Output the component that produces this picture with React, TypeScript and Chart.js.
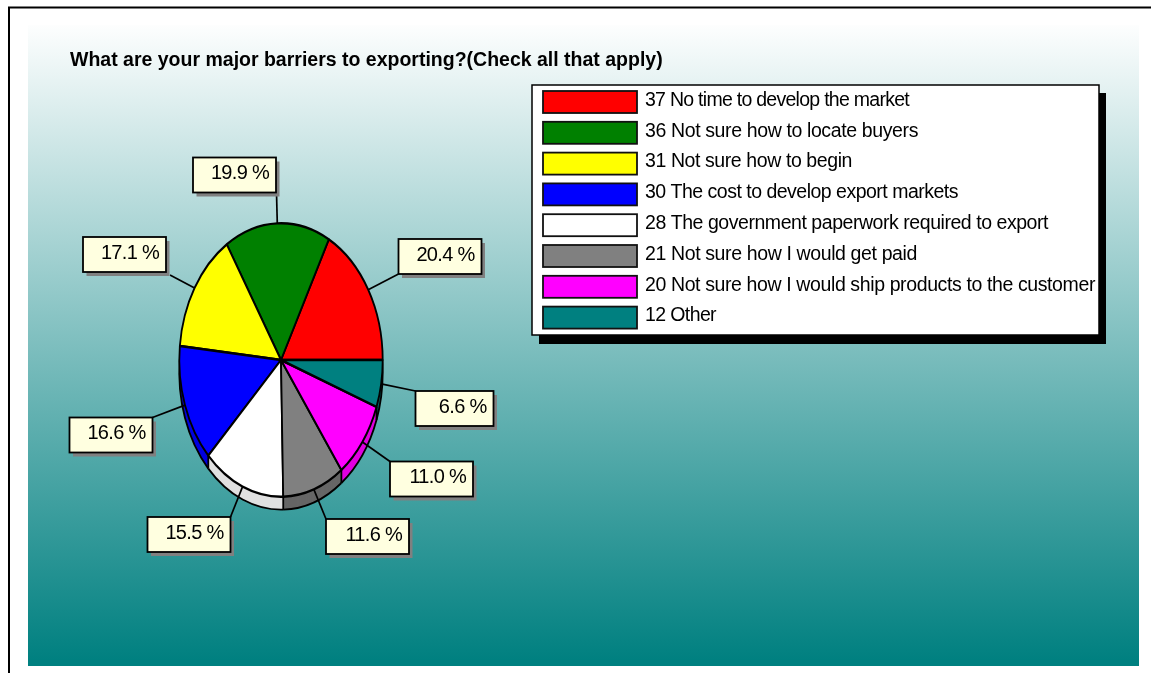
import React, { useEffect, useRef } from "react";
import { Chart, registerables } from "chart.js";

Chart.register(...registerables);

const TITLE = "What are your major barriers to exporting?(Check all that apply)";
const CATEGORIES = [
  "No time to develop the market",
  "Not sure how to locate buyers",
  "Not sure how to begin",
  "The cost to develop export markets",
  "The government paperwork required to export",
  "Not sure how I would get paid",
  "Not sure how I would ship products to the customer",
  "Other",
];
const COUNTS = [37, 36, 31, 30, 28, 21, 20, 12];
const PERCENT_LABELS = ["20.4", "19.9", "17.1", "16.6", "15.5", "11.6", "11.0", "6.6"];
const SLICE_COLORS = ["#ff0000", "#008000", "#ffff00", "#0000ff", "#ffffff", "#808080", "#ff00ff", "#008080"];
const WALL_COLORS = ["#c00000", "#006000", "#c0c000", "#0000e0", "#e0e0e0", "#666666", "#e000e0", "#006666"];
// Left and top corner of each percentage callout.
const CALLOUT_CORNERS = [
  [398.5, 239], [193, 157.5], [83, 237], [69.5, 417.5],
  [147.5, 517], [326, 519], [390, 461.5], [415.5, 391],
];
const CALLOUT_WIDTHS = [83, 83, 83, 83, 83, 83, 83, 78];
const CALLOUT_ATTACH = [
  [398.5, 274], [276.5, 192.5], [170, 275], [152.5, 417.5],
  [230.5, 517], [326, 519], [390, 461.5], [415.5, 391],
];
// Set width of each legend line, in pixels.
const LEGEND_TEXT_WIDTHS = [264, 273, 207, 313, 403, 272, 450, 71];

const CX = 281;
const CY = 360;
const RX = 101.7;
const RY = 136.7;
const DEPTH = 13;
const FONT = '"Liberation Sans", Arial, sans-serif';

function squash(ctx: CanvasRenderingContext2D, dy: number) {
  ctx.translate(CX, CY + dy);
  ctx.scale(1, -RY / RX);
  ctx.translate(-CX, -CY);
}

function drawLine(ctx: CanvasRenderingContext2D, x1: number, y1: number, x2: number, y2: number) {
  ctx.beginPath();
  ctx.moveTo(x1, y1);
  ctx.lineTo(x2, y2);
  ctx.stroke();
}

const slabPlugin = {
  id: "slab",
  beforeDraw(chart: any) {
    const ctx: CanvasRenderingContext2D = chart.ctx;
    ctx.save();
    ctx.fillStyle = "#ffffff";
    ctx.fillRect(0, 0, chart.width, chart.height);
    const g = ctx.createLinearGradient(0, 20, 0, 660);
    g.addColorStop(0, "#ffffff");
    g.addColorStop(1, "#008080");
    ctx.fillStyle = g;
    ctx.fillRect(28, 25, 1111, 641);
    ctx.strokeStyle = "#000000";
    ctx.lineWidth = 2;
    ctx.beginPath();
    ctx.moveTo(9, 673);
    ctx.lineTo(9, 7.5);
    ctx.lineTo(1151, 7.5);
    ctx.stroke();

    ctx.fillStyle = "#000000";
    ctx.font = `bold 19.5px ${FONT}`;
    ctx.textBaseline = "alphabetic";
    ctx.textAlign = "left";
    ctx.fillText(TITLE, 70, 66);
    ctx.restore();
  },
  beforeDatasetsDraw(chart: any) {
    const ctx: CanvasRenderingContext2D = chart.ctx;
    const arcs = chart.getDatasetMeta(0).data;
    // The side wall: darker copies of every slice stacked below the top face.
    for (let d = DEPTH; d >= 1; d--) {
      arcs.forEach((arc: any, i: number) => {
        const saved = arc.options;
        arc.options = { ...saved, backgroundColor: WALL_COLORS[i], borderWidth: 0 };
        ctx.save();
        squash(ctx, d);
        arc.draw(ctx);
        ctx.restore();
        arc.options = saved;
      });
    }
    // Rim of the lower edge.
    arcs.forEach((arc: any) => {
      ctx.save();
      squash(ctx, DEPTH);
      ctx.beginPath();
      ctx.arc(arc.x, arc.y, arc.outerRadius, arc.startAngle, arc.endAngle);
      ctx.restore();
      ctx.strokeStyle = "#000000";
      ctx.lineWidth = 1.8;
      ctx.stroke();
    });
    // Wall seams where slices meet on the front half.
    ctx.strokeStyle = "#000000";
    ctx.lineWidth = 1.8;
    arcs.forEach((arc: any) => {
      const s = Math.sin(arc.startAngle);
      if (s < 0) {
        const x = CX + arc.outerRadius * Math.cos(arc.startAngle);
        const y = CY - RY * s;
        drawLine(ctx, x, y, x, y + DEPTH);
      }
    });
    ctx.save();
    squash(ctx, 0);
  },
  afterDatasetsDraw(chart: any) {
    const ctx: CanvasRenderingContext2D = chart.ctx;
    ctx.restore();
    const arcs = chart.getDatasetMeta(0).data;

    // Percentage callouts with their leader lines.
    arcs.forEach((arc: any, i: number) => {
      const mid = (arc.startAngle + arc.endAngle) / 2;
      const [bx, by] = CALLOUT_CORNERS[i];
      const w = CALLOUT_WIDTHS[i];
      const h = 35;
      const [ax, ay] = CALLOUT_ATTACH[i];
      ctx.strokeStyle = "#000000";
      ctx.lineWidth = 1.7;
      drawLine(ctx, ax, ay, CX + RX * Math.cos(mid), CY - RY * Math.sin(mid));
      ctx.fillStyle = "#808080";
      ctx.fillRect(bx + 3.5, by + 4, w, h);
      ctx.fillStyle = "#ffffe0";
      ctx.fillRect(bx, by, w, h);
      ctx.lineWidth = 1.8;
      ctx.strokeRect(bx, by, w, h);
      ctx.fillStyle = "#000000";
      ctx.font = `20px ${FONT}`;
      (ctx as any).letterSpacing = "-0.7px";
      ctx.textAlign = "right";
      ctx.textBaseline = "alphabetic";
      ctx.fillText(`${PERCENT_LABELS[i]} %`, bx + w - 7, by + 21.7);
      (ctx as any).letterSpacing = "0px";
    });

    // Legend box with a solid black drop shadow.
    ctx.fillStyle = "#000000";
    ctx.fillRect(539, 93, 567, 251);
    ctx.fillStyle = "#ffffff";
    ctx.fillRect(532, 85, 567, 250);
    ctx.strokeStyle = "#000000";
    ctx.lineWidth = 1.5;
    ctx.strokeRect(532, 85, 567, 250);
    CATEGORIES.forEach((name, i) => {
      const y = 91 + i * 30.8;
      ctx.fillStyle = SLICE_COLORS[i];
      ctx.fillRect(543, y, 94, 22);
      ctx.strokeStyle = "#111111";
      ctx.lineWidth = 1.8;
      ctx.strokeRect(543, y, 94, 22);
      ctx.fillStyle = "#000000";
      ctx.font = `19.5px ${FONT}`;
      ctx.textAlign = "left";
      const text = `${COUNTS[i]} ${name}`;
      (ctx as any).letterSpacing = "0px";
      const natural = ctx.measureText(text).width;
      (ctx as any).letterSpacing = `${(LEGEND_TEXT_WIDTHS[i] - natural) / text.length}px`;
      ctx.fillText(text, 645, y + 14.7);
      (ctx as any).letterSpacing = "0px";
    });
  },
};

export default function App() {
  const ref = useRef<HTMLCanvasElement>(null);
  useEffect(() => {
    document.body.style.margin = "0";
    document.body.style.background = "#ffffff";
    const chart = new Chart(ref.current!, {
      type: "pie",
      data: {
        labels: CATEGORIES,
        datasets: [
          {
            data: COUNTS,
            backgroundColor: SLICE_COLORS,
            borderColor: "#000000",
            borderWidth: 1.8,
          },
        ],
      },
      options: {
        responsive: false,
        animation: false,
        rotation: 90,
        radius: RX,
        layout: { padding: { left: CX - 150, right: 1151 - CX - 150, top: CY - 150, bottom: 673 - CY - 150 } },
        plugins: { legend: { display: false }, title: { display: false }, tooltip: { enabled: false } },
      },
      plugins: [slabPlugin],
    });
    return () => chart.destroy();
  }, []);
  return <canvas ref={ref} width={1151} height={673} style={{ display: "block", width: 1151, height: 673 }} />;
}
